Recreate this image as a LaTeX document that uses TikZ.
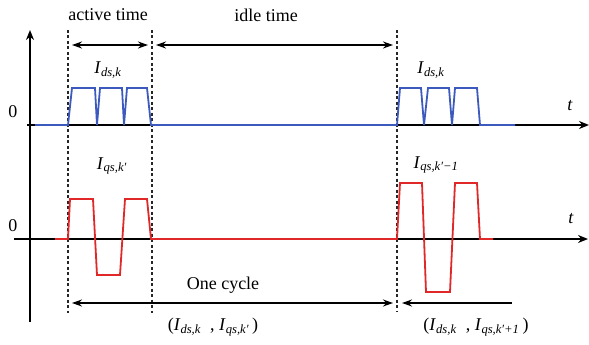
\documentclass[tikz,border=0pt]{standalone}
\usepackage{fontspec}
\setmainfont{Liberation Serif}
\usetikzlibrary{arrows.meta}
\definecolor{wblue}{RGB}{60,90,190}
\definecolor{wred}{RGB}{225,40,40}
\newcommand\lbl[2]{\textit{#1}\textsubscript{\textit{#2}}}
\begin{document}
\begin{tikzpicture}[x=1pt,y=-1pt,
  axis/.style={line width=2.2pt,-{Stealth[length=10pt,width=8pt]}},
  span/.style={line width=1.9pt,{Stealth[length=10pt,width=7pt]}-{Stealth[length=10pt,width=7pt]}},
  halfspan/.style={line width=1.9pt,-{Stealth[length=10pt,width=7pt]}},
  guide/.style={line width=1.2pt,dash pattern=on 3pt off 2.5pt,black!85},
  txt/.style={inner sep=0pt,font=\fontsize{18}{20}\selectfont},
  wave/.style={line width=1.8pt,line join=miter}]
\useasboundingbox (0,0) rectangle (589,345);
% axes
\coordinate (ybot) at (30,322);
\coordinate (ytop) at (30,30);
\draw[axis] (ybot) -- (ytop);
\coordinate (ta0) at (27,125);
\coordinate (ta1) at (589,125);
\draw[axis] (ta0) -- (ta1);
\coordinate (tb0) at (14,239);
\coordinate (tb1) at (588,239);
\draw[axis] (tb0) -- (tb1);
% guides
\coordinate (g1t) at (68,30); \coordinate (g1b) at (68,313);
\coordinate (g2t) at (152,30); \coordinate (g2b) at (152,313);
\coordinate (g3t) at (397,30); \coordinate (g3b) at (397,312);
\draw[guide] (g1t) -- (g1b);
\draw[guide] (g2t) -- (g2b);
\draw[guide] (g3t) -- (g3b);
% waveforms
\draw[wave,wblue] (35,125) -- (68,125) -- (72,88) -- (95,88) -- (97,125) -- (100,88) -- (122,88) -- (124,125) -- (127,88) -- (147,88) -- (151,125) -- (397,125) -- (400,88) -- (421,88) -- (424,125) -- (428,88) -- (449,88) -- (452,125) -- (455,88) -- (477,88) -- (480,125) -- (515,125);
\draw[wave,wred] (55,239) -- (68,239) -- (70,199) -- (93,199) -- (97,275) -- (120,275) -- (125,199) -- (147,199) -- (151,239) -- (397,239) -- (400,183) -- (422,183) -- (426,292) -- (450,292) -- (455,183) -- (477,183) -- (480,239) -- (493,239);
% span arrows
\coordinate (a0) at (72,45); \coordinate (a1) at (148,45);
\coordinate (i0) at (156,45); \coordinate (i1) at (393,45);
\coordinate (c0) at (72,303); \coordinate (c1) at (393,303);
\coordinate (n0) at (512,303); \coordinate (n1) at (402,303);
\draw[span] (a0) -- (a1);
\draw[span] (i0) -- (i1);
\draw[span] (c0) -- (c1);
\draw[halfspan] (n0) -- (n1);
% texts
\node[txt] (active) at (108,15) {active time};
\node[txt] (idle) at (266,15) {idle time};
\node[txt] (cycle) at (223,285) {One cycle};
\node[txt] (z1) at (13,112) {0};
\node[txt] (z2) at (13,226) {0};
\node[txt] (t1) at (570,106) {\textit{t}};
\node[txt] (t2) at (571,219) {\textit{t}};
\node[txt] (ids1) at (108,70) {\lbl{I}{ds,k}};
\node[txt] (ids2) at (431,70) {\lbl{I}{ds,k}};
\node[txt] (iqs1) at (112,166) {\lbl{I}{qs,k′}};
\node[txt] (iqs2) at (436,165) {\lbl{I}{qs,k′−1}};
\node[txt] (pair1) at (213,327) {(\lbl{I}{ds,k}\ \ , \lbl{I}{qs,k′}\,)};
\node[txt] (pair2) at (476,327) {(\lbl{I}{ds,k}\ \ , \lbl{I}{qs,k′+1}\,)};
\end{tikzpicture}
\end{document}
